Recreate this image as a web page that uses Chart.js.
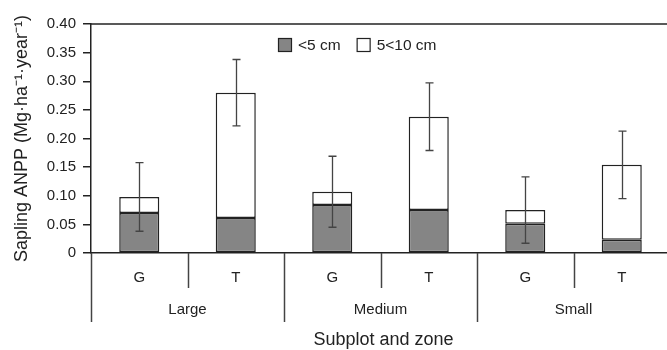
<!DOCTYPE html>
<html>
<head>
<meta charset="utf-8">
<script src="https://cdn.jsdelivr.net/npm/chart.js@4/dist/chart.umd.min.js"></script>
<style>
  html, body { margin: 0; padding: 0; background: #fff; }
  #wrap { width: 667px; height: 350px; overflow: hidden; }
  #box { width: 670px; height: 350px; }
</style>
</head>
<body>
<div id="wrap"><div id="box"><canvas id="chart"></canvas></div></div>
<script>
// Data
const zones = ['G', 'T', 'G', 'T', 'G', 'T'];
const subplots = ['Large', 'Medium', 'Small'];
const under5 = [0.070, 0.061, 0.084, 0.075, 0.051, 0.023];   // <5 cm
const from5to10 = [0.028, 0.219, 0.023, 0.163, 0.024, 0.131]; // 5<10 cm
const errors = [0.060, 0.058, 0.062, 0.059, 0.058, 0.059];

const FONT = "'Liberation Sans', Arial, sans-serif";
const INK = '#222';

// draws frame pieces, group separators, labels, legend and error bars
const extras = {
    id: 'extras',
    afterDraw(chart) {
        const ctx = chart.ctx;
        const area = chart.chartArea;
        const x = chart.scales.x;
        const y = chart.scales.y;
        ctx.save();

        // top frame line
        ctx.strokeStyle = INK;
        ctx.lineWidth = 1.5;
        ctx.beginPath();
        ctx.moveTo(area.left, area.top);
        ctx.lineTo(chart.width, area.top);
        ctx.stroke();

        // separators below the axis
        ctx.strokeStyle = '#444';
        ctx.lineWidth = 1.5;
        for (let i = 0; i <= zones.length; i++) {
            const px = Math.round(x.getPixelForValue(i - 0.5)) + 0.5;
            const bottom = i % 2 === 0 ? area.bottom + 69 : area.bottom + 35;
            ctx.beginPath();
            ctx.moveTo(px, area.bottom);
            ctx.lineTo(px, bottom);
            ctx.stroke();
        }

        ctx.fillStyle = INK;
        ctx.textAlign = 'center';
        ctx.textBaseline = 'middle';
        ctx.font = '15px ' + FONT;
        zones.forEach((z, i) => {
            ctx.fillText(z, x.getPixelForValue(i), area.bottom + 25);
        });
        subplots.forEach((s, i) => {
            const px = (x.getPixelForValue(2 * i) + x.getPixelForValue(2 * i + 1)) / 2;
            ctx.fillText(s, px, area.bottom + 57);
        });
        ctx.font = '18px ' + FONT;
        ctx.fillText('Subplot and zone', (area.left + area.right) / 2 + 3, area.bottom + 87);

        // legend
        let lx = 278;
        const ly = 45;
        ctx.font = '15.5px ' + FONT;
        ctx.textAlign = 'left';
        chart.data.datasets.forEach(ds => {
            ctx.fillStyle = ds.backgroundColor;
            ctx.fillRect(lx, ly - 7, 14, 14);
            ctx.strokeStyle = INK;
            ctx.lineWidth = 1.2;
            ctx.strokeRect(lx + 0.5, ly - 6.5, 13, 13);
            ctx.fillStyle = INK;
            ctx.fillText(ds.label, lx + 20, ly + 1);
            lx += 20 + ctx.measureText(ds.label).width + 16;
        });

        // error bars on the stack totals
        ctx.strokeStyle = '#444';
        ctx.lineWidth = 1.3;
        zones.forEach((z, i) => {
            const total = under5[i] + from5to10[i];
            const px = Math.round(x.getPixelForValue(i)) + 0.5;
            const top = y.getPixelForValue(total + errors[i]);
            const bot = y.getPixelForValue(total - errors[i]);
            ctx.beginPath();
            ctx.moveTo(px, top); ctx.lineTo(px, bot);
            ctx.moveTo(px - 4, top); ctx.lineTo(px + 4, top);
            ctx.moveTo(px - 4, bot); ctx.lineTo(px + 4, bot);
            ctx.stroke();
        });
        ctx.restore();
    }
};

const chart = new Chart(document.getElementById('chart'), {
    type: 'bar',
    data: {
        labels: zones,
        datasets: [{
            label: '<5 cm',
            data: under5,
            backgroundColor: '#858585',
            borderColor: INK,
            borderWidth: 1.5,
            borderSkipped: false
        }, {
            label: '5<10 cm',
            data: from5to10,
            backgroundColor: '#ffffff',
            borderColor: INK,
            borderWidth: 1.5,
            borderSkipped: false
        }]
    },
    options: {
        responsive: true,
        maintainAspectRatio: false,
        animation: false,
        layout: { padding: { top: 24, left: 0, right: 0, bottom: 0 } },
        datasets: { bar: { barPercentage: 0.415, categoryPercentage: 1 } },
        plugins: {
            legend: { display: false },
            tooltip: { enabled: false }
        },
        scales: {
            x: {
                stacked: true,
                grid: { display: false, drawTicks: false },
                border: { display: true, color: INK, width: 1.5 },
                ticks: { display: false },
                afterFit: axis => { axis.height = 97; }
            },
            y: {
                stacked: true,
                min: 0,
                max: 0.4,
                grid: { drawOnChartArea: false, drawTicks: true, tickLength: 8, color: INK, lineWidth: 1.5 },
                border: { display: true, color: INK, width: 1.5 },
                ticks: {
                    stepSize: 0.05,
                    padding: 7,
                    color: INK,
                    font: { family: FONT, size: 15 },
                    callback: v => (v === 0 ? '0' : v.toFixed(2))
                },
                title: {
                    display: true,
                    text: 'Sapling ANPP (Mg·ha⁻¹·year⁻¹)',
                    color: INK,
                    font: { family: FONT, size: 18 },
                    padding: { top: 11, bottom: 0 }
                },
                afterFit: axis => { axis.width = 91; }
            }
        }
    },
    plugins: [extras]
});
</script>
</body>
</html>
